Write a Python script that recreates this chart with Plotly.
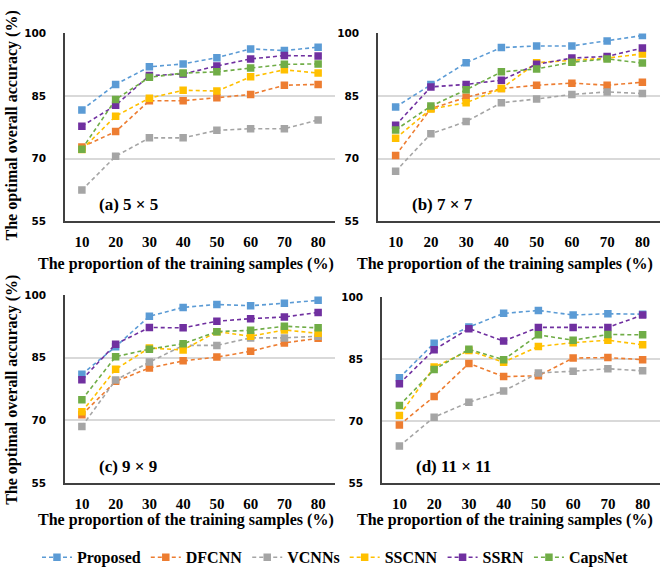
import plotly.graph_objects as go

proportions = [10, 20, 30, 40, 50, 60, 70, 80]
x_tick_labels = ["10", "20", "30", "40", "50", "60", "70", "80"]
y_ticks = [55, 70, 85, 100]

series_names = ["Proposed", "DFCNN", "VCNNs", "SSCNN", "SSRN", "CapsNet"]
series_colors = ["#5B9BD5", "#ED7D31", "#A5A5A5", "#FFC000", "#7030A0", "#70AD47"]

# (a) 5 x 5
a_proposed = [81.7, 87.8, 92.0, 92.7, 94.2, 96.3, 95.9, 96.7]
a_dfcnn    = [72.8, 76.5, 83.9, 83.9, 84.6, 85.4, 87.6, 87.8]
a_vcnns    = [62.5, 70.6, 75.0, 75.0, 76.8, 77.2, 77.2, 79.3]
a_sscnn    = [72.2, 80.2, 84.5, 86.4, 86.2, 89.6, 91.3, 90.5]
a_ssrn     = [77.8, 82.8, 89.9, 90.3, 92.2, 93.9, 94.7, 94.6]
a_capsnet  = [72.3, 84.2, 89.5, 90.5, 90.8, 91.7, 92.6, 92.7]

# (b) 7 x 7
b_proposed = [82.4, 87.8, 93.0, 96.6, 97.0, 97.0, 98.2, 99.5]
b_dfcnn    = [70.8, 82.0, 84.7, 86.8, 87.6, 88.1, 87.6, 88.3]
b_vcnns    = [67.0, 76.0, 78.9, 83.4, 84.3, 85.4, 86.0, 85.6]
b_sscnn    = [74.9, 81.9, 83.4, 86.8, 93.0, 93.5, 94.1, 95.1]
b_ssrn     = [78.0, 87.2, 87.8, 88.8, 92.6, 94.1, 94.5, 96.5]
b_capsnet  = [76.9, 82.6, 86.5, 90.8, 91.5, 93.1, 93.9, 92.9]

# (c) 9 x 9
c_proposed = [81.0, 87.6, 94.9, 97.0, 97.7, 97.4, 98.0, 98.7]
c_dfcnn    = [71.3, 79.3, 82.5, 84.2, 85.1, 86.5, 88.5, 89.6]
c_vcnns    = [68.5, 79.6, 83.9, 87.9, 87.9, 89.7, 89.7, 90.1]
c_sscnn    = [72.0, 82.2, 87.3, 86.8, 91.2, 90.1, 91.6, 90.8]
c_ssrn     = [79.7, 88.2, 92.2, 92.1, 93.7, 94.3, 94.7, 95.8]
c_capsnet  = [74.9, 85.2, 87.0, 88.3, 91.2, 91.5, 92.5, 92.1]

# (d) 11 x 11
d_proposed = [80.4, 88.8, 92.7, 96.0, 96.7, 95.6, 95.9, 95.8]
d_dfcnn    = [69.0, 75.9, 83.9, 80.7, 80.9, 85.2, 85.3, 84.8]
d_vcnns    = [63.9, 70.9, 74.5, 77.2, 81.6, 82.0, 82.6, 82.1]
d_sscnn    = [71.3, 83.0, 87.0, 84.2, 88.0, 88.9, 89.5, 88.4]
d_ssrn     = [79.0, 87.2, 92.3, 89.3, 92.6, 92.6, 92.6, 95.6]
d_capsnet  = [73.7, 82.4, 87.3, 84.8, 90.8, 89.5, 90.9, 90.8]

panel_labels = ["(a) 5 × 5", "(b) 7 × 7", "(c) 9 × 9", "(d) 11 × 11"]
panels = [
    [a_proposed, a_dfcnn, a_vcnns, a_sscnn, a_ssrn, a_capsnet],
    [b_proposed, b_dfcnn, b_vcnns, b_sscnn, b_ssrn, b_capsnet],
    [c_proposed, c_dfcnn, c_vcnns, c_sscnn, c_ssrn, c_capsnet],
    [d_proposed, d_dfcnn, d_vcnns, d_sscnn, d_ssrn, d_capsnet],
]

W, H = 663, 577
# plot-area pixel boxes (left, right, top, bottom)
boxes = [(65, 335, 28, 220), (378, 660, 28, 220), (65, 335, 295, 487), (382, 660, 297, 487)]

SERIF = "Liberation Serif, Times New Roman, serif"
fig = go.Figure()

for p, series in enumerate(panels):
    sfx = "" if p == 0 else str(p + 1)
    for name, color, vals in zip(series_names, series_colors, series):
        fig.add_trace(go.Scatter(
            x=proportions, y=vals, name=name, mode="lines+markers",
            line=dict(color=color, width=1.6, dash="4px,3px"),
            marker=dict(symbol="square", size=7.5, color=color, line=dict(width=0)),
            xaxis="x" + sfx, yaxis="y" + sfx,
            showlegend=(p == 0), legendgroup=name,
        ))

layout = dict(
    width=W, height=H, margin=dict(l=0, r=0, t=0, b=0),
    paper_bgcolor="white", plot_bgcolor="white", showlegend=True,
    legend=dict(orientation="h", x=0.506, xanchor="center", y=1 - 563 / H, yanchor="middle",
                font=dict(family=SERIF, size=16, color="black", weight="bold"),
                itemwidth=30, tracegroupgap=0, bgcolor="rgba(0,0,0,0)"),
)

annotations = []
for p, (l, r, t, b) in enumerate(boxes):
    sfx = "" if p == 0 else str(p + 1)
    layout["xaxis" + sfx] = dict(
        domain=[l / W, r / W], range=[5, 85], tickvals=proportions, ticktext=x_tick_labels,
        showgrid=False, zeroline=False, showline=True, linecolor="#404040", linewidth=1.5,
        ticks="", ticklabelstandoff=6,
        tickfont=dict(family=SERIF, size=15, color="black", weight="bold"),
        anchor="y" + sfx, fixedrange=True,
    )
    layout["yaxis" + sfx] = dict(
        domain=[1 - b / H, 1 - t / H], range=[55, 100], tickvals=y_ticks,
        showgrid=True, gridcolor="#D9D9D9", gridwidth=1.5, zeroline=False,
        showline=True, linecolor="#404040", linewidth=1.5,
        ticks="", ticklabelstandoff=15,
        tickfont=dict(family="DejaVu Sans, Verdana, sans-serif", size=10.5, color="black", weight="bold"),
        anchor="x" + sfx, fixedrange=True,
    )
    annotations.append(dict(
        text=panel_labels[p], xref="paper", yref="paper",
        x=(l + 32) / W, y=1 - (b - 17) / H, xanchor="left", yanchor="middle", showarrow=False,
        font=dict(family=SERIF, size=17, color="black", weight="bold"),
    ))

# x-axis titles
for cx, cy in [(186, 263), (505, 263), (186, 525), (505, 525)]:
    annotations.append(dict(
        text="The proportion of the training samples (%)", xref="paper", yref="paper",
        x=cx / W, y=1 - cy / H, xanchor="center", yanchor="middle", showarrow=False,
        font=dict(family=SERIF, size=16, color="black", weight="bold"),
    ))
# y-axis titles
for cy in [122, 392]:
    annotations.append(dict(
        text="The optimal overall accuracy (%)", xref="paper", yref="paper",
        x=12 / W, y=1 - cy / H, xanchor="center", yanchor="middle", showarrow=False,
        textangle=-90,
        font=dict(family=SERIF, size=16, color="black", weight="bold"),
    ))

layout["annotations"] = annotations
fig.update_layout(**layout)
fig.write_html("out.html", config={"displayModeBar": False},
               post_script="document.body.style.margin='0px';document.body.style.overflow='hidden';")
